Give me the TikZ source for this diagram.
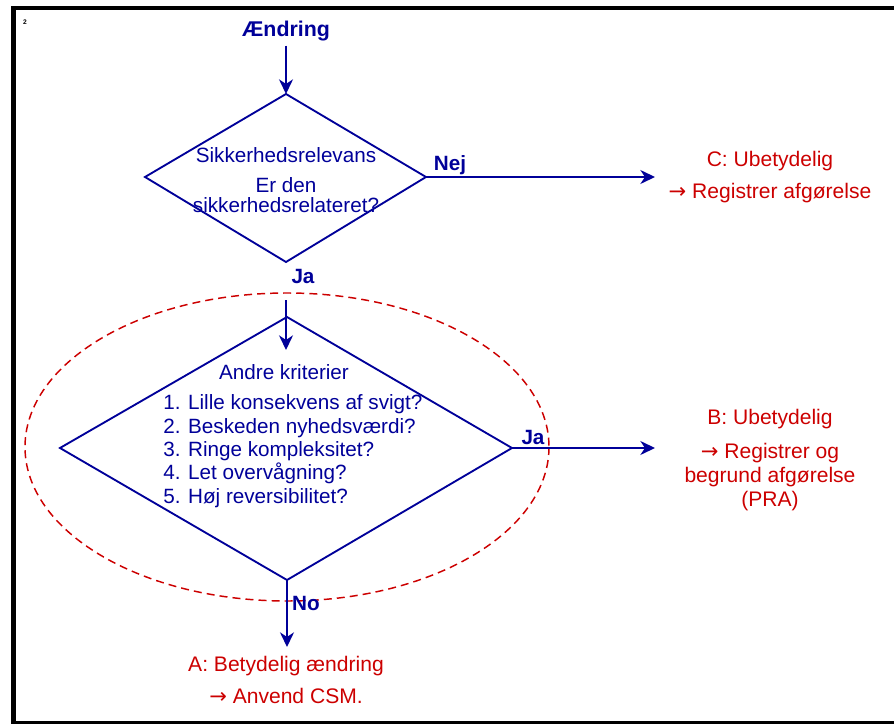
\documentclass[tikz,border=0pt]{standalone}
\usepackage{fontspec}
\setmainfont{Liberation Sans}
\newfontfamily\arrowfont{DejaVu Sans}
\usetikzlibrary{arrows.meta,calc}
\definecolor{flowblue}{HTML}{000099}
\definecolor{resred}{HTML}{CC0000}
\definecolor{frame}{HTML}{000000}
\newcommand{\resArrow}{{\arrowfont →}}
\tikzset{
  flow/.style={draw=flowblue, line width=1.4pt, line join=miter},
  flowArrow/.style={flow, -{Stealth[length=11pt,width=10.5pt,inset=3.5pt]}},
  qTxt/.style={text=flowblue, font=\fontsize{15.5}{15}\selectfont, align=center, inner sep=0pt},
  listTxt/.style={text=flowblue, font=\fontsize{15.5}{17.5}\selectfont, align=left, anchor=west, inner sep=0pt},
  ansLbl/.style={text=flowblue, font=\fontsize{15.5}{17}\selectfont\bfseries, inner sep=0pt},
  resTxt/.style={text=resred, font=\fontsize{15.8}{18}\selectfont, align=center, inner sep=0pt},
  scopeRing/.style={draw=resred, line width=1.1pt, dash pattern=on 6pt off 3.8pt},
}
\newcommand{\DiamondCoords}{%
  \coordinate (q1T) at (286,94);
  \coordinate (q1R) at (426,177);
  \coordinate (q1B) at (286,262);
  \coordinate (q1L) at (145,177);
  \coordinate (q2T) at (287,317);
  \coordinate (q2R) at (512,448);
  \coordinate (q2B) at (287,580);
  \coordinate (q2L) at (60,448);
}

\begin{document}
\begin{tikzpicture}[x=0.75pt, y=-0.75pt]
  \clip (0,0) rectangle (894,724);
  \draw[frame, line width=3.4pt] (13.5,7.8) rectangle (910,723.5);
  \node[font=\fontsize{5}{6}\selectfont\bfseries] (pageNo) at (25,22) {2};

  \DiamondCoords
  \draw[flow] (q1T) -- (q1R) -- (q1B) -- (q1L) -- cycle;
  \draw[flow] (q2T) -- (q2R) -- (q2B) -- (q2L) -- cycle;
  \draw[scopeRing] (287,447) ellipse [x radius=262, y radius=154];

  % start and questions
  \node[text=flowblue, font=\fontsize{16}{18}\selectfont\bfseries] (chg) at (286,31) {Ændring};
  \node[qTxt] (q1Head) at (286,155) {Sikkerhedsrelevans};
  \node[qTxt] (q1Ask) at (286,195) {Er den\\sikkerhedsrelateret?};
  \node[qTxt] (q2Head) at (284,372) {Andre kriterier};
  \node[listTxt] (q2List) at (163,451) {1. Lille konsekvens af svigt?\\2. Beskeden nyhedsværdi?\\3. Ringe kompleksitet?\\4. Let overvågning?\\5. Høj reversibilitet?};

  % outcomes
  \node[resTxt] (resC) at (770,177) {C: Ubetydelig\\[6pt]\resArrow{} Registrer afgørelse};
  \node[resTxt] (resB) at (770,460) {B: Ubetydelig\\[7pt]\resArrow{} Registrer og\\begrund afgørelse\\(PRA)};
  \node[resTxt] (resA) at (286,680) {A: Betydelig ændring\\[6pt]\resArrow{} Anvend CSM.};

  % connectors
  \coordinate (nejEnd) at (655,177);
  \coordinate (jaStart) at (286,300);
  \coordinate (q2Tip) at (286,350);
  \coordinate (jaEnd) at (655,448);
  \coordinate (noEnd) at (287,647);
  \draw[flowArrow] (chg) -- (q1T);
  \draw[flowArrow] (q1R) -- (nejEnd);
  \draw[flowArrow] (jaStart) -- (q2Tip);
  \draw[flowArrow] (q2R) -- (jaEnd);
  \draw[flowArrow] (q2B) -- (noEnd);

  \node[ansLbl] (nejLbl) at (450,165) {Nej};
  \node[ansLbl] (jaLbl1) at (303,276) {Ja};
  \node[ansLbl] (jaLbl2) at (533,437) {Ja};
  \node[ansLbl] (noLbl) at (306,603) {No};
\end{tikzpicture}
\end{document}
